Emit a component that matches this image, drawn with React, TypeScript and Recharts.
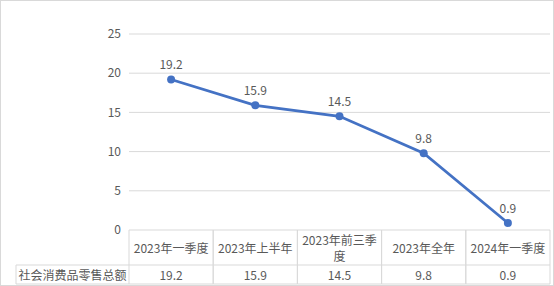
import { LineChart, Line, XAxis, YAxis, CartesianGrid, LabelList } from "recharts";

const categories = ["2023年一季度", "2023年上半年", "2023年前三季度", "2023年全年", "2024年一季度"];
const retailValues = [19.2, 15.9, 14.5, 9.8, 0.9];
const yTicks = [0, 5, 10, 15, 20, 25];
const seriesName = "社会消费品零售总额";

const data = categories.map((category, i) => ({ category, value: retailValues[i] }));

// layout
const W = 554;
const H = 286;
const PLOT_LEFT = 129;
const PLOT_RIGHT = 550;
const PLOT_TOP = 34;
const PLOT_BOTTOM = 230;
const HEADER_BOTTOM = 265;
const ROW_BOTTOM = 284;
const LABEL_LEFT = 16;
const Y_AXIS_W = 30;
const BAND = (PLOT_RIGHT - PLOT_LEFT) / categories.length;

const GRID = "#D9D9D9";
const TEXT = "#595959";
const BLUE = "#4472C4";
const FONT = "'Noto Sans CJK SC', 'Noto Sans', sans-serif";

// rough width estimate, enough to decide where the header label breaks
function wrap(label: string, max: number) {
  const lines: string[] = [];
  let cur = "";
  let w = 0;
  for (const ch of label) {
    const cw = /[\u0000-\u00ff]/.test(ch) ? 6 : 11.5;
    if (w + cw > max && cur) {
      lines.push(cur);
      cur = "";
      w = 0;
    }
    cur += ch;
    w += cw;
  }
  if (cur) lines.push(cur);
  return lines;
}

function TableTick(props: any) {
  const { x, payload, index } = props;
  const left = x - BAND / 2;
  const right = x + BAND / 2;
  const lines = wrap(String(payload.value), BAND - 6);
  const headMid = (PLOT_BOTTOM + HEADER_BOTTOM) / 2;
  const rowMid = (HEADER_BOTTOM + ROW_BOTTOM) / 2;
  const lh = 16;
  const startY = headMid - ((lines.length - 1) * lh) / 2;
  return (
    <g>
      <line x1={left} y1={PLOT_BOTTOM} x2={left} y2={ROW_BOTTOM} stroke={GRID} />
      <line x1={right} y1={PLOT_BOTTOM} x2={right} y2={ROW_BOTTOM} stroke={GRID} />
      <line x1={left} y1={HEADER_BOTTOM} x2={right} y2={HEADER_BOTTOM} stroke={GRID} />
      <line x1={left} y1={ROW_BOTTOM} x2={right} y2={ROW_BOTTOM} stroke={GRID} />
      {lines.map((ln, i) => (
        <text key={i} x={x} y={startY + i * lh} textAnchor="middle" dominantBaseline="central" fill={TEXT} fontSize={12} fontFamily={FONT}>
          {ln}
        </text>
      ))}
      <text x={x} y={rowMid} textAnchor="middle" dominantBaseline="central" fill={TEXT} fontSize={12} fontFamily={FONT}>
        {retailValues[index]}
      </text>
      {index === 0 && (
        <g>
          <line x1={LABEL_LEFT} y1={HEADER_BOTTOM} x2={LABEL_LEFT} y2={ROW_BOTTOM} stroke={GRID} />
          <line x1={LABEL_LEFT} y1={HEADER_BOTTOM} x2={left} y2={HEADER_BOTTOM} stroke={GRID} />
          <line x1={LABEL_LEFT} y1={ROW_BOTTOM} x2={left} y2={ROW_BOTTOM} stroke={GRID} />
          <text x={(LABEL_LEFT + left) / 2} y={rowMid} textAnchor="middle" dominantBaseline="central" fill={TEXT} fontSize={12} fontFamily={FONT}>
            {seriesName}
          </text>
        </g>
      )}
    </g>
  );
}

export default function App() {
  return (
    <div style={{ position: "fixed", left: 0, top: 0, width: W, height: H, background: "#fff" }}>
      <LineChart
        width={W}
        height={H}
        data={data}
        margin={{ top: PLOT_TOP, right: W - PLOT_RIGHT, bottom: 0, left: PLOT_LEFT - Y_AXIS_W }}
      >
        <CartesianGrid vertical={false} stroke={GRID} />
        <XAxis
          dataKey="category"
          height={H - PLOT_BOTTOM}
          axisLine={false}
          tickLine={false}
          interval={0}
          padding={{ left: BAND / 2, right: BAND / 2 }}
          tick={<TableTick />}
        />
        <YAxis
          width={Y_AXIS_W}
          domain={[0, 25]}
          ticks={yTicks}
          axisLine={false}
          tickLine={false}
          tick={{ fill: TEXT, fontSize: 12, fontFamily: FONT }}
        />
        <Line
          dataKey="value"
          name={seriesName}
          stroke={BLUE}
          strokeWidth={2.75}
          dot={{ r: 4, fill: BLUE, stroke: BLUE, strokeWidth: 0 }}
          isAnimationActive={false}
        >
          <LabelList dataKey="value" position="top" offset={10} fill={TEXT} fontSize={12} fontFamily={FONT} />
        </Line>
      </LineChart>
      <div
        style={{
          position: "absolute",
          left: 0,
          top: 0,
          width: W,
          height: H,
          boxSizing: "border-box",
          border: `1px solid ${GRID}`,
          pointerEvents: "none",
        }}
      />
    </div>
  );
}
